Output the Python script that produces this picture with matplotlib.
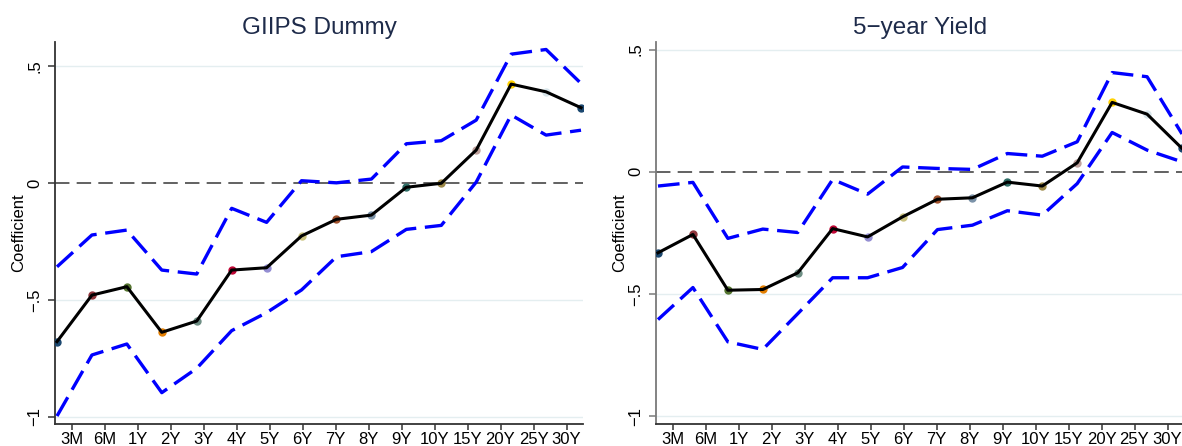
import matplotlib
matplotlib.use("Agg")
import matplotlib.pyplot as plt
import numpy as np

plt.rcParams['font.family'] = ['Liberation Sans', 'DejaVu Sans']

maturities = ["3M", "6M", "1Y", "2Y", "3Y", "4Y", "5Y", "6Y", "7Y", "8Y",
              "9Y", "10Y", "15Y", "20Y", "25Y", "30Y"]

# GIIPS Dummy
giips_coef = [-0.678, -0.479, -0.443, -0.638, -0.590, -0.372, -0.362, -0.226,
              -0.155, -0.137, -0.018, -0.001, 0.141, 0.423, 0.390, 0.322]
giips_upper = [-0.358, -0.222, -0.201, -0.372, -0.389, -0.108, -0.168, 0.010,
               0.001, 0.017, 0.168, 0.181, 0.269, 0.551, 0.571, 0.426]
giips_lower = [-0.996, -0.735, -0.688, -0.896, -0.792, -0.631, -0.554, -0.457,
               -0.315, -0.293, -0.198, -0.181, 0.004, 0.291, 0.205, 0.226]

# 5-year Yield
yield_coef = [-0.331, -0.256, -0.484, -0.481, -0.413, -0.232, -0.266, -0.184,
              -0.112, -0.106, -0.042, -0.058, 0.037, 0.284, 0.236, 0.096]
yield_upper = [-0.058, -0.043, -0.272, -0.234, -0.248, -0.031, -0.091, 0.020,
               0.014, 0.010, 0.075, 0.064, 0.123, 0.406, 0.389, 0.155]
yield_lower = [-0.604, -0.473, -0.695, -0.726, -0.580, -0.433, -0.433, -0.391,
               -0.236, -0.218, -0.159, -0.177, -0.048, 0.161, 0.089, 0.041]

yticks = [-1, -0.5, 0, 0.5]
ytick_labels = ["\u22121", "\u2212.5", "0", ".5"]

# Stata s2color palette for per-point markers
marker_colors = ["#1a476f", "#90353b", "#55752f", "#e37e00", "#6e8e84",
                 "#c10534", "#938dd2", "#cac27e", "#a0522d", "#7b92a8",
                 "#2d6d66", "#9c8847", "#bfa19c", "#ffd200", "#d9e6eb",
                 "#1a476f"]

fig = plt.figure(figsize=(11.82, 4.46), dpi=100)

panels = [
    ("GIIPS Dummy", giips_coef, giips_upper, giips_lower, (-1.03, 0.603),
     [55 / 1182, 22 / 446, 528 / 1182, 382 / 446], "#333333"),
    ("5\u2212year Yield", yield_coef, yield_upper, yield_lower, (-1.031, 0.531),
     [656 / 1182, 22 / 446, 528 / 1182, 382 / 446], "#7a7a7a"),
]

title_color = "#1e2b4a"
x = np.arange(1, len(maturities) + 1)
xmin, xmax = 0.943, 16.057
bw = (xmax - xmin) / len(maturities)
xticks = [xmin + (k + 0.5) * bw for k in range(len(maturities))]

for title, coef, up, lo, ylim, rect, lspine in panels:
    ax = fig.add_axes(rect)
    ax.set_xlim(xmin, xmax)
    ax.set_ylim(*ylim)
    for yv in yticks:
        if yv != 0:
            ax.axhline(yv, color="#e4eef0", lw=1.0, zorder=0)
    ax.axhline(0, color="#555555", lw=1.3, dashes=(8, 4), zorder=1)
    ax.plot(x, up, color="#0000ff", lw=2.4, dashes=(6.5, 2.6), zorder=2,
            dash_capstyle="butt")
    ax.plot(x, lo, color="#0000ff", lw=2.4, dashes=(6.5, 2.6), zorder=2,
            dash_capstyle="butt")
    for xi, yi, c in zip(x, coef, marker_colors):
        ax.plot([xi], [yi], "o", ms=5, color=c, mec=c, zorder=3)
    ax.plot(x, coef, color="black", lw=2.2, zorder=4)

    ax.set_title(title, fontsize=17.5, color=title_color, pad=6)
    ax.set_yticks(yticks)
    ax.set_yticklabels(ytick_labels, rotation=90, va="center", fontsize=12)
    ax.set_xticks(xticks)
    ax.set_xticklabels(maturities, fontsize=12)
    ax.set_ylabel("Coefficient", fontsize=12, labelpad=1)
    for s in ["top", "right"]:
        ax.spines[s].set_visible(False)
    ax.spines["left"].set_color(lspine)
    ax.spines["left"].set_linewidth(1.3)
    ax.spines["bottom"].set_color("#333333")
    ax.spines["bottom"].set_linewidth(1.3)
    ax.tick_params(axis="y", length=5, width=1.1, color=lspine, pad=4)
    ax.tick_params(axis="x", length=4, width=1.1, color="#333333", pad=2)

fig.savefig("out.png", dpi=100, facecolor="white")
